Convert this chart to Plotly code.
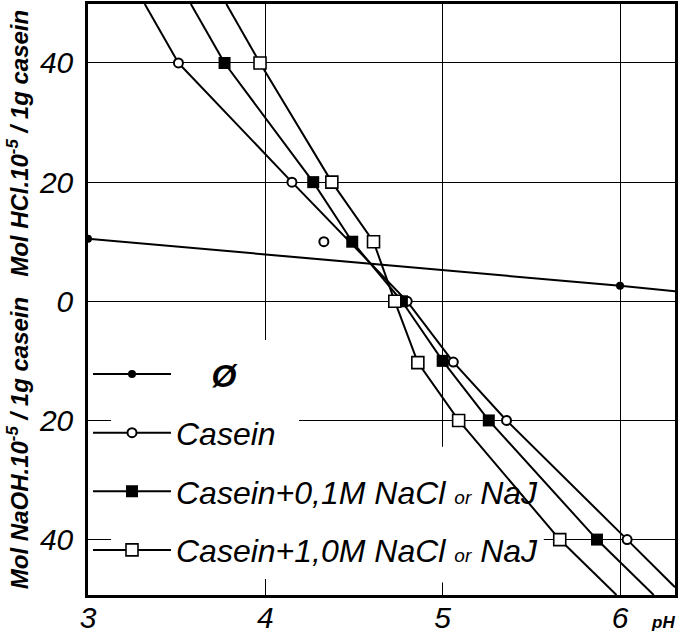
import plotly.graph_objects as go

# ---------------- data ----------------
blank_ph = [3.0, 6.0]
blank_y = [10.5, 2.6]
blank_ext_ph = [6.31]          # line continues to the frame
blank_ext_y = [1.7]

casein_ph = [3.51, 4.15, 4.80, 5.06, 5.36, 6.04]
casein_y = [40, 20, 0, -10.2, -20, -40]
casein_start = (3.32, 49.9)
casein_end = (6.31, -48.0)
casein_extra_ph = [4.33]        # isolated point, not on the curve
casein_extra_y = [10.0]

nacl01_ph = [3.77, 4.27, 4.49, 4.77, 5.00, 5.26, 5.87]
nacl01_y = [40, 20, 10, 0, -10, -20, -40]
nacl01_start = (3.58, 49.9)
nacl01_end = (6.19, -49.3)

nacl10_ph = [3.97, 4.375, 4.61, 4.73, 4.86, 5.09, 5.66]
nacl10_y = [40, 20, 10, 0, -10.3, -20, -40]
nacl10_start = (3.78, 49.9)
nacl10_end = (5.98, -49.3)

x_ticks = [3, 4, 5, 6]
x_ticktext = ["3", "4", "5", "6"]
y_ticks = [-40, -20, 0, 20, 40]
y_ticktext = ["40", "20", "0", "20", "40"]

names = [
    "\u00a0\u00a0\u00a0\u00a0<b>Ø</b>",
    "Casein",
    "Casein+0,1M NaCl <span style='font-size:19px'>or</span> NaJ",
    "Casein+1,0M NaCl <span style='font-size:19px'>or</span> NaJ",
]

# ---------------- figure ----------------
FONT = "Liberation Sans, Arimo, DejaVu Sans, sans-serif"
fig = go.Figure()

def ext_trace(start, pts_x, pts_y, end, group):
    xs, ys = [], []
    if start is not None:
        xs += [start[0], pts_x[0], None]
        ys += [start[1], pts_y[0], None]
    if end is not None:
        xs += [pts_x[-1], end[0]]
        ys += [pts_y[-1], end[1]]
    return go.Scatter(x=xs, y=ys, mode="lines", line=dict(color="black", width=2),
                      showlegend=False, legendgroup=group, hoverinfo="skip")

# Ø (no casein)
fig.add_trace(ext_trace(None, blank_ph, blank_y, (blank_ext_ph[0], blank_ext_y[0]), "g0"))
fig.add_trace(go.Scatter(x=blank_ph, y=blank_y, mode="lines+markers", name=names[0],
                         legendgroup="g0",
                         line=dict(color="black", width=2),
                         marker=dict(symbol="circle", size=8, color="black")))

# Casein
fig.add_trace(ext_trace(casein_start, casein_ph, casein_y, casein_end, "g1"))
fig.add_trace(go.Scatter(x=casein_ph, y=casein_y, mode="lines+markers", name=names[1],
                         legendgroup="g1",
                         line=dict(color="black", width=2),
                         marker=dict(symbol="circle", size=9, color="white",
                                     line=dict(color="black", width=2))))
fig.add_trace(go.Scatter(x=casein_extra_ph, y=casein_extra_y, mode="markers",
                         showlegend=False, legendgroup="g1",
                         marker=dict(symbol="circle", size=9, color="white",
                                     line=dict(color="black", width=2))))

# Casein + 0.1 M
fig.add_trace(ext_trace(nacl01_start, nacl01_ph, nacl01_y, nacl01_end, "g2"))
fig.add_trace(go.Scatter(x=nacl01_ph, y=nacl01_y, mode="lines+markers", name=names[2],
                         legendgroup="g2",
                         line=dict(color="black", width=2),
                         marker=dict(symbol="square", size=12, color="black")))

# Casein + 1.0 M
fig.add_trace(ext_trace(nacl10_start, nacl10_ph, nacl10_y, nacl10_end, "g3"))
fig.add_trace(go.Scatter(x=nacl10_ph, y=nacl10_y, mode="lines+markers", name=names[3],
                         legendgroup="g3",
                         line=dict(color="black", width=2),
                         marker=dict(symbol="square", size=12, color="white",
                                     line=dict(color="black", width=1.6))))

axis_common = dict(showline=True, mirror=True, linecolor="black", linewidth=2.5,
                   showgrid=True, gridcolor="black", gridwidth=1.2, zeroline=False,
                   ticks="", tickfont=dict(family=FONT, size=30, color="black", style="italic"))

fig.update_xaxes(range=[3, 6.31], tickvals=x_ticks, ticktext=x_ticktext,
                 ticklabelstandoff=-6, **axis_common)
fig.update_yaxes(range=[-49.3, 49.9], tickvals=y_ticks, ticktext=y_ticktext,
                 ticklabelstandoff=6, automargin=False,
                 title=dict(text="Mol NaOH.10<sup>-5</sup> / 1g casein   Mol HCl.10<sup>-5</sup> / 1g casein",
                            font=dict(family=FONT, size=24, color="black", style="italic", weight="bold"),
                            standoff=4),
                 **axis_common)

# white patches hiding the grid behind the legend (drawn under the curves)
fig.add_shape(type="rect", xref="x", yref="y", x0=3.13, x1=4.19, y0=-46.6, y1=-6.5,
              fillcolor="white", line_width=0, layer="between")
fig.add_shape(type="rect", xref="x", yref="y", x0=4.19, x1=5.57, y0=-47.2, y1=-24.4,
              fillcolor="white", line_width=0, layer="between")

fig.add_annotation(text="<b>pH</b>", xref="paper", yref="paper", x=0.98, y=-0.047,
                   showarrow=False, xanchor="center", yanchor="middle",
                   font=dict(family=FONT, size=17, color="black", style="italic"))

fig.update_layout(
    width=680, height=640,
    margin=dict(l=88, r=5, t=4, b=45, autoexpand=False),
    paper_bgcolor="white", plot_bgcolor="white",
    showlegend=True,
    legend=dict(x=0.0, y=0.42, xanchor="left", yanchor="top",
                bgcolor="rgba(0,0,0,0)", borderwidth=0,
                font=dict(family=FONT, size=32, color="black", style="italic"),
                tracegroupgap=14, itemwidth=78, traceorder="grouped"),
)

fig.write_html("out.html", config={"displayModeBar": False},
               post_script="document.body.style.margin='0';")
